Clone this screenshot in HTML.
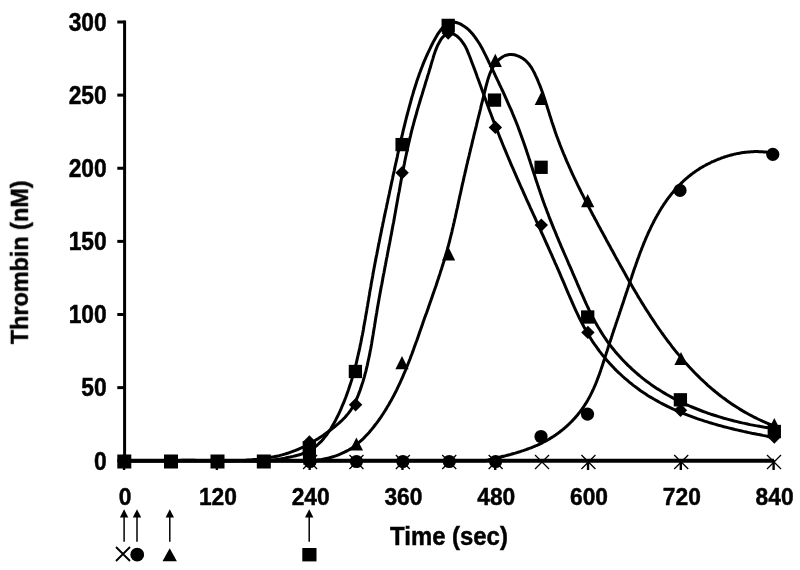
<!DOCTYPE html><html><head><meta charset="utf-8"><style>html,body{margin:0;padding:0;background:#fff;}svg{display:block;}</style></head><body>
<svg width="800" height="570" viewBox="0 0 800 570" font-family="Liberation Sans, sans-serif" font-weight="bold">
<rect width="800" height="570" fill="#fff"/>
<g stroke="#000" stroke-width="3" fill="none" stroke-linecap="butt">
<path d="M124.6,20.6 V462.2"/>
<path d="M117.3,460.75 H124.6"/>
<path d="M117.3,387.62 H124.6"/>
<path d="M117.3,314.50 H124.6"/>
<path d="M117.3,241.38 H124.6"/>
<path d="M117.3,168.25 H124.6"/>
<path d="M117.3,95.12 H124.6"/>
<path d="M117.3,22.00 H124.6"/>
<path d="M123.1,460.75 H774" stroke-width="3.8"/>
<path d="M124.10,460 V470" stroke-width="2.4"/>
<path d="M216.89,460 V470" stroke-width="2.4"/>
<path d="M309.67,460 V470" stroke-width="2.4"/>
<path d="M402.46,460 V470" stroke-width="2.4"/>
<path d="M495.24,460 V470" stroke-width="2.4"/>
<path d="M588.03,460 V470" stroke-width="2.4"/>
<path d="M680.81,460 V470" stroke-width="2.4"/>
<path d="M773.60,460 V470" stroke-width="2.4"/>
</g>
<g stroke="#000" stroke-width="3" fill="none" stroke-linejoin="round" stroke-linecap="round">
<path d="M124.5,460.8 L250.1,460.8 252.8,461.0 255.5,461.1 258.2,461.2 260.9,461.1 263.5,461.0 266.2,460.8 268.8,460.6 271.4,460.3 274.0,459.9 276.6,459.5 279.3,459.1 281.9,458.6 284.6,458.1 287.4,457.5 290.1,457.0 292.9,456.4 295.7,455.7 298.5,455.0 301.2,454.2 303.8,453.2 306.3,452.2 308.8,451.0 311.1,449.6 313.3,448.2 315.4,446.6 317.4,445.0 319.3,443.2 321.2,441.4 322.9,439.5 324.6,437.4 326.3,435.4 327.8,433.2 329.3,431.0 330.8,428.8 332.1,426.5 333.5,424.1 334.8,421.8 336.0,419.4 337.2,417.0 338.4,414.6 339.6,412.1 340.7,409.7 341.7,407.2 342.8,404.7 343.8,402.3 344.8,399.8 345.8,397.3 346.7,394.8 347.6,392.2 348.5,389.7 349.3,387.2 350.2,384.6 351.0,382.1 351.8,379.5 352.5,376.9 353.3,374.3 354.0,371.7 354.7,369.1 355.4,366.5 356.1,363.9 356.7,361.3 357.3,358.7 357.9,356.0 358.5,353.4 359.1,350.8 359.7,348.1 360.2,345.5 360.8,342.8 361.3,340.2 361.8,337.5 362.4,334.8 362.9,332.2 363.4,329.5 363.8,326.8 364.3,324.1 364.8,321.5 365.3,318.8 365.7,316.1 366.2,313.4 366.7,310.7 367.1,308.1 367.6,305.4 368.0,302.7 368.5,300.0 368.9,297.4 369.4,294.7 369.8,292.0 370.3,289.3 370.8,286.7 371.2,284.0 371.7,281.3 372.2,278.7 372.7,276.0 373.1,273.3 373.6,270.7 374.1,268.0 374.6,265.4 375.1,262.7 375.6,260.1 376.1,257.4 376.7,254.8 377.2,252.1 377.7,249.5 378.2,246.9 378.7,244.2 379.3,241.6 379.8,238.9 380.3,236.3 380.9,233.7 381.4,231.0 381.9,228.4 382.5,225.8 383.0,223.1 383.6,220.5 384.1,217.9 384.7,215.2 385.2,212.6 385.8,210.0 386.4,207.3 386.9,204.7 387.5,202.1 388.0,199.4 388.6,196.8 389.2,194.1 389.7,191.5 390.3,188.9 390.9,186.2 391.4,183.6 392.0,180.9 392.6,178.3 393.1,175.6 393.7,173.0 394.3,170.3 394.8,167.7 395.4,165.0 396.0,162.4 396.6,159.8 397.2,157.1 397.7,154.5 398.3,151.8 398.9,149.2 399.5,146.5 400.1,143.9 400.7,141.2 401.3,138.6 402.0,136.0 402.6,133.3 403.2,130.7 403.8,128.1 404.5,125.5 405.1,122.8 405.8,120.2 406.4,117.6 407.1,115.0 407.8,112.4 408.5,109.8 409.2,107.2 409.9,104.7 410.6,102.1 411.3,99.5 412.0,96.9 412.8,94.4 413.5,91.8 414.3,89.3 415.1,86.7 415.9,84.2 416.7,81.6 417.6,79.1 418.5,76.6 419.3,74.0 420.3,71.5 421.2,69.0 422.2,66.5 423.2,63.9 424.2,61.4 425.3,58.9 426.4,56.4 427.5,53.8 428.7,51.3 429.9,48.8 431.1,46.3 432.4,43.8 433.7,41.2 435.1,38.7 436.5,36.2 437.9,33.9 439.5,31.6 441.1,29.5 442.8,27.5 444.5,25.8 446.4,24.4 448.3,23.3 450.3,22.6 452.5,22.2 454.8,22.3 457.1,22.8 459.6,23.6 462.0,24.9 464.4,26.4 466.8,28.2 469.0,30.1 471.0,32.2 473.0,34.5 474.8,36.8 476.4,39.1 478.0,41.5 479.5,43.8 480.9,46.2 482.2,48.5 483.4,50.9 484.6,53.3 485.8,55.6 486.9,58.0 488.1,60.4 489.2,62.8 490.4,65.2 491.5,67.6 492.7,70.0 493.9,72.4 495.0,74.8 496.2,77.3 497.3,79.7 498.5,82.1 499.6,84.6 500.8,87.0 501.9,89.5 503.1,91.9 504.2,94.4 505.3,96.8 506.4,99.3 507.5,101.8 508.6,104.3 509.7,106.8 510.8,109.2 511.9,111.7 512.9,114.2 514.0,116.8 515.0,119.3 516.0,121.8 517.0,124.3 518.0,126.8 518.9,129.4 519.9,131.9 520.8,134.4 521.7,137.0 522.6,139.5 523.5,142.1 524.4,144.6 525.3,147.2 526.2,149.7 527.0,152.3 527.9,154.9 528.7,157.4 529.6,160.0 530.4,162.6 531.2,165.1 532.1,167.7 532.9,170.3 533.7,172.8 534.6,175.4 535.4,178.0 536.2,180.5 537.1,183.1 537.9,185.6 538.8,188.2 539.7,190.7 540.5,193.3 541.4,195.8 542.3,198.4 543.2,200.9 544.1,203.5 545.0,206.0 546.0,208.5 546.9,211.1 547.9,213.6 548.8,216.1 549.8,218.6 550.8,221.1 551.8,223.6 552.8,226.1 553.8,228.6 554.9,231.1 555.9,233.6 556.9,236.1 558.0,238.6 559.0,241.1 560.1,243.6 561.1,246.1 562.2,248.6 563.3,251.1 564.3,253.5 565.4,256.0 566.5,258.5 567.6,261.0 568.6,263.5 569.7,265.9 570.8,268.4 571.9,270.9 572.9,273.4 574.0,275.9 575.1,278.4 576.2,280.8 577.2,283.3 578.3,285.8 579.4,288.3 580.4,290.8 581.5,293.2 582.6,295.7 583.7,298.2 584.8,300.6 585.9,303.1 587.0,305.5 588.2,308.0 589.3,310.4 590.5,312.8 591.7,315.2 592.9,317.6 594.2,320.0 595.4,322.3 596.8,324.7 598.1,327.0 599.5,329.3 600.9,331.6 602.3,333.9 603.8,336.2 605.3,338.4 606.8,340.6 608.4,342.8 610.0,345.0 611.7,347.2 613.4,349.3 615.1,351.4 616.9,353.5 618.7,355.5 620.5,357.5 622.3,359.5 624.2,361.5 626.1,363.4 628.0,365.4 630.0,367.2 632.0,369.1 634.0,370.9 636.0,372.7 638.1,374.5 640.1,376.2 642.2,377.9 644.4,379.6 646.5,381.2 648.7,382.8 650.9,384.4 653.1,385.9 655.3,387.4 657.5,388.9 659.8,390.3 662.1,391.7 664.4,393.1 666.7,394.5 669.0,395.8 671.4,397.1 673.7,398.4 676.1,399.6 678.5,400.8 680.9,402.0 683.3,403.2 685.8,404.3 688.2,405.4 690.7,406.5 693.2,407.5 695.7,408.5 698.2,409.5 700.7,410.5 703.2,411.5 705.8,412.4 708.3,413.3 710.9,414.2 713.4,415.0 716.0,415.8 718.6,416.6 721.2,417.4 723.8,418.2 726.4,418.9 729.0,419.6 731.6,420.3 734.2,421.0 736.9,421.6 739.5,422.3 742.1,422.9 744.8,423.4 747.4,424.0 750.1,424.6 752.8,425.1 755.4,425.6 758.1,426.1 760.7,426.5 763.4,427.0 766.1,427.4 768.7,427.8 771.4,428.2 774.1,428.6"/>
<path d="M124.5,460.8 L180.0,460.4 182.8,460.3 185.6,460.3 188.4,460.3 191.2,460.3 194.0,460.3 196.8,460.4 199.7,460.4 202.5,460.5 205.4,460.5 208.2,460.6 211.1,460.6 214.0,460.6 216.9,460.7 219.7,460.7 222.6,460.7 225.5,460.7 228.4,460.7 231.2,460.7 234.1,460.7 237.0,460.6 239.9,460.5 242.7,460.4 245.6,460.3 248.5,460.1 251.3,459.9 254.2,459.6 257.0,459.4 259.8,459.0 262.7,458.7 265.5,458.3 268.3,457.8 271.0,457.3 273.8,456.8 276.6,456.2 279.3,455.6 282.1,454.9 284.8,454.1 287.5,453.3 290.1,452.4 292.8,451.4 295.5,450.4 298.1,449.3 300.7,448.2 303.3,447.0 305.8,445.7 308.4,444.4 310.9,443.0 313.4,441.6 315.8,440.1 318.3,438.6 320.7,437.0 323.1,435.4 325.4,433.7 327.8,432.0 330.1,430.3 332.3,428.5 334.6,426.8 336.8,424.9 339.0,423.1 341.1,421.2 343.1,419.2 345.1,417.2 346.9,415.1 348.7,412.9 350.4,410.6 351.9,408.3 353.3,405.8 354.7,403.3 355.9,400.8 357.0,398.2 358.1,395.5 359.1,392.9 360.1,390.2 361.0,387.5 361.9,384.8 362.8,382.1 363.6,379.3 364.4,376.6 365.1,373.9 365.9,371.1 366.5,368.3 367.2,365.6 367.8,362.8 368.4,360.0 369.0,357.2 369.6,354.4 370.1,351.6 370.7,348.8 371.2,346.0 371.7,343.2 372.1,340.4 372.6,337.5 373.1,334.7 373.5,331.9 374.0,329.1 374.5,326.3 374.9,323.4 375.4,320.6 375.8,317.8 376.3,315.0 376.8,312.2 377.2,309.4 377.7,306.6 378.2,303.7 378.7,300.9 379.2,298.1 379.7,295.3 380.2,292.5 380.7,289.7 381.2,287.0 381.8,284.2 382.3,281.4 382.8,278.6 383.3,275.8 383.9,273.0 384.4,270.2 384.9,267.4 385.5,264.6 386.0,261.8 386.5,259.0 387.1,256.3 387.6,253.5 388.1,250.7 388.7,247.9 389.2,245.1 389.8,242.3 390.3,239.5 390.8,236.7 391.4,233.9 391.9,231.1 392.4,228.3 392.9,225.5 393.5,222.7 394.0,219.9 394.5,217.1 395.0,214.3 395.5,211.4 396.0,208.6 396.5,205.8 397.0,203.0 397.5,200.2 398.0,197.3 398.5,194.5 399.1,191.7 399.6,188.9 400.1,186.1 400.6,183.2 401.1,180.4 401.6,177.6 402.2,174.8 402.7,172.0 403.3,169.2 403.8,166.4 404.4,163.6 404.9,160.8 405.5,158.0 406.1,155.2 406.7,152.4 407.3,149.6 407.9,146.9 408.5,144.1 409.2,141.3 409.8,138.6 410.5,135.8 411.1,133.1 411.8,130.4 412.5,127.6 413.3,124.9 414.0,122.2 414.7,119.5 415.5,116.8 416.3,114.0 417.0,111.3 417.8,108.6 418.6,105.9 419.4,103.2 420.2,100.5 421.0,97.8 421.9,95.1 422.7,92.4 423.5,89.6 424.4,86.9 425.2,84.2 426.0,81.4 426.9,78.7 427.7,75.9 428.6,73.1 429.4,70.3 430.3,67.5 431.1,64.7 431.9,61.9 432.8,59.1 433.6,56.2 434.5,53.4 435.5,50.6 436.6,47.9 437.7,45.2 439.1,42.7 440.5,40.2 442.1,37.9 443.9,36.0 445.8,34.5 447.8,33.5 449.9,33.2 452.0,33.5 454.2,34.4 456.4,35.7 458.5,37.5 460.5,39.5 462.3,41.8 464.0,44.3 465.5,46.8 466.8,49.4 467.9,52.1 469.0,54.8 470.1,57.5 471.1,60.2 472.1,62.9 473.1,65.6 474.2,68.4 475.2,71.1 476.2,73.7 477.1,76.4 478.1,79.1 479.1,81.8 480.1,84.5 481.1,87.2 482.0,89.9 483.0,92.5 484.0,95.2 484.9,97.9 485.9,100.5 486.9,103.2 487.9,105.9 488.8,108.5 489.8,111.2 490.8,113.8 491.8,116.5 492.8,119.1 493.8,121.8 494.8,124.4 495.8,127.0 496.9,129.7 497.9,132.3 499.0,135.0 500.0,137.6 501.1,140.2 502.1,142.8 503.2,145.5 504.3,148.1 505.4,150.7 506.5,153.3 507.6,156.0 508.7,158.6 509.8,161.2 510.9,163.8 512.0,166.4 513.2,169.0 514.3,171.6 515.4,174.2 516.6,176.9 517.7,179.5 518.9,182.1 520.0,184.7 521.2,187.3 522.4,189.9 523.5,192.5 524.7,195.1 525.8,197.7 527.0,200.3 528.2,202.9 529.4,205.5 530.5,208.1 531.7,210.7 532.9,213.3 534.1,215.9 535.3,218.5 536.4,221.1 537.6,223.7 538.8,226.3 540.0,228.9 541.1,231.5 542.3,234.1 543.5,236.7 544.7,239.3 545.8,241.9 547.0,244.5 548.2,247.1 549.3,249.7 550.5,252.3 551.7,254.9 552.8,257.6 554.0,260.2 555.1,262.8 556.3,265.4 557.4,268.0 558.6,270.6 559.7,273.2 560.8,275.9 561.9,278.5 563.1,281.1 564.2,283.7 565.3,286.3 566.4,289.0 567.5,291.6 568.6,294.2 569.8,296.8 570.9,299.4 572.0,302.0 573.2,304.6 574.3,307.2 575.5,309.8 576.7,312.4 577.9,314.9 579.1,317.5 580.4,320.0 581.7,322.5 583.0,325.0 584.3,327.5 585.7,330.0 587.1,332.4 588.5,334.9 590.0,337.3 591.5,339.7 593.0,342.1 594.6,344.4 596.3,346.7 597.9,349.0 599.6,351.3 601.4,353.6 603.1,355.8 605.0,358.0 606.8,360.2 608.7,362.3 610.6,364.4 612.6,366.5 614.5,368.6 616.5,370.6 618.6,372.6 620.7,374.5 622.8,376.5 624.9,378.4 627.1,380.2 629.3,382.1 631.5,383.8 633.7,385.6 636.0,387.3 638.3,389.0 640.6,390.7 642.9,392.3 645.3,393.8 647.7,395.4 650.1,396.9 652.5,398.3 655.0,399.7 657.5,401.1 659.9,402.5 662.5,403.8 665.0,405.1 667.5,406.4 670.1,407.6 672.7,408.8 675.3,410.0 677.9,411.1 680.5,412.2 683.1,413.3 685.8,414.4 688.4,415.4 691.1,416.4 693.8,417.4 696.5,418.4 699.2,419.3 701.9,420.2 704.6,421.1 707.4,421.9 710.1,422.8 712.9,423.6 715.6,424.4 718.4,425.2 721.1,425.9 723.9,426.7 726.7,427.4 729.5,428.1 732.2,428.8 735.0,429.5 737.8,430.1 740.6,430.7 743.4,431.4 746.1,432.0 748.9,432.6 751.7,433.2 754.5,433.7 757.3,434.3 760.0,434.8 762.8,435.4 765.5,435.9 768.3,436.4 771.1,436.9 773.8,437.5"/>
<path d="M124.5,460.8 L289.9,460.6 292.4,460.7 294.8,460.9 297.3,460.9 299.8,461.0 302.2,461.0 304.7,460.9 307.2,460.9 309.6,460.7 312.1,460.6 314.5,460.3 316.9,460.1 319.3,459.7 321.7,459.4 324.1,458.9 326.5,458.4 328.8,457.9 331.1,457.3 333.4,456.6 335.7,455.9 337.9,455.1 340.1,454.2 342.3,453.2 344.5,452.2 346.6,451.1 348.7,450.0 350.7,448.7 352.7,447.4 354.6,446.0 356.5,444.6 358.4,443.0 360.2,441.4 362.0,439.8 363.8,438.1 365.5,436.3 367.2,434.5 368.9,432.7 370.5,430.8 372.1,428.9 373.6,427.0 375.1,425.0 376.6,423.1 378.1,421.1 379.5,419.1 380.9,417.1 382.3,415.0 383.6,413.0 384.9,411.0 386.2,408.9 387.4,406.8 388.7,404.7 389.9,402.6 391.1,400.5 392.2,398.4 393.4,396.3 394.5,394.1 395.6,392.0 396.7,389.8 397.7,387.6 398.8,385.4 399.8,383.3 400.8,381.1 401.8,378.9 402.8,376.6 403.7,374.4 404.7,372.2 405.6,370.0 406.5,367.7 407.4,365.5 408.3,363.2 409.2,361.0 410.1,358.7 410.9,356.4 411.8,354.2 412.6,351.9 413.5,349.6 414.3,347.3 415.1,345.0 415.9,342.8 416.8,340.5 417.6,338.2 418.4,335.9 419.2,333.6 420.0,331.3 420.8,329.0 421.6,326.7 422.4,324.4 423.2,322.1 424.0,319.8 424.8,317.5 425.6,315.3 426.5,313.0 427.3,310.7 428.1,308.4 428.9,306.1 429.7,303.8 430.5,301.5 431.3,299.2 432.1,296.9 432.9,294.6 433.7,292.3 434.5,290.0 435.3,287.8 436.1,285.5 436.8,283.2 437.6,280.8 438.4,278.5 439.1,276.2 439.9,273.9 440.6,271.6 441.4,269.3 442.1,267.0 442.8,264.7 443.6,262.3 444.3,260.0 445.0,257.7 445.6,255.3 446.3,253.0 447.0,250.7 447.6,248.3 448.3,246.0 448.9,243.6 449.5,241.3 450.1,238.9 450.7,236.5 451.3,234.2 451.9,231.8 452.4,229.4 453.0,227.0 453.5,224.7 454.1,222.3 454.6,219.9 455.2,217.5 455.7,215.1 456.2,212.8 456.7,210.4 457.3,208.0 457.8,205.6 458.3,203.2 458.8,200.8 459.3,198.5 459.8,196.1 460.4,193.7 460.9,191.4 461.4,189.0 461.9,186.6 462.4,184.3 463.0,181.9 463.5,179.6 464.0,177.2 464.6,174.9 465.1,172.5 465.7,170.2 466.2,167.8 466.7,165.5 467.3,163.1 467.8,160.8 468.4,158.5 469.0,156.1 469.5,153.8 470.1,151.4 470.6,149.1 471.2,146.8 471.8,144.4 472.3,142.1 472.9,139.7 473.5,137.4 474.0,135.0 474.6,132.7 475.2,130.3 475.8,128.0 476.4,125.6 476.9,123.3 477.5,120.9 478.1,118.5 478.7,116.1 479.3,113.8 479.9,111.4 480.5,109.0 481.0,106.6 481.6,104.2 482.2,101.8 482.8,99.4 483.4,97.0 484.0,94.5 484.6,92.1 485.2,89.7 485.8,87.2 486.4,84.8 487.1,82.3 487.8,79.9 488.5,77.6 489.3,75.2 490.2,72.9 491.2,70.7 492.2,68.6 493.4,66.5 494.7,64.5 496.2,62.5 497.8,60.8 499.5,59.1 501.3,57.7 503.2,56.5 505.2,55.5 507.3,54.9 509.5,54.5 511.7,54.5 514.0,54.8 516.2,55.3 518.4,56.1 520.5,57.1 522.6,58.3 524.5,59.7 526.3,61.2 527.9,63.0 529.5,64.8 530.9,66.8 532.2,68.9 533.4,71.1 534.6,73.3 535.6,75.6 536.7,77.9 537.7,80.2 538.6,82.5 539.6,84.8 540.5,87.1 541.4,89.5 542.2,91.8 543.0,94.1 543.8,96.5 544.6,98.8 545.4,101.2 546.1,103.5 546.9,105.9 547.6,108.2 548.4,110.6 549.1,112.9 549.8,115.2 550.6,117.6 551.3,119.9 552.0,122.2 552.8,124.5 553.6,126.8 554.3,129.1 555.1,131.4 555.9,133.7 556.7,136.0 557.6,138.3 558.4,140.5 559.3,142.8 560.1,145.0 561.0,147.3 561.9,149.5 562.8,151.8 563.7,154.0 564.7,156.2 565.6,158.4 566.5,160.6 567.5,162.8 568.5,165.0 569.4,167.2 570.4,169.4 571.4,171.6 572.4,173.8 573.4,176.0 574.4,178.1 575.5,180.3 576.5,182.5 577.5,184.6 578.6,186.8 579.7,189.0 580.7,191.1 581.8,193.3 582.9,195.4 584.0,197.6 585.1,199.7 586.2,201.9 587.3,204.0 588.4,206.1 589.5,208.3 590.6,210.4 591.7,212.6 592.8,214.7 594.0,216.8 595.1,219.0 596.3,221.1 597.4,223.2 598.5,225.4 599.7,227.5 600.8,229.7 602.0,231.8 603.2,233.9 604.3,236.1 605.5,238.2 606.6,240.4 607.8,242.5 609.0,244.7 610.2,246.8 611.3,249.0 612.5,251.1 613.7,253.3 614.8,255.4 616.0,257.6 617.2,259.7 618.4,261.9 619.6,264.0 620.8,266.2 622.0,268.3 623.2,270.5 624.4,272.6 625.6,274.8 626.8,276.9 628.0,279.1 629.2,281.2 630.5,283.3 631.7,285.5 632.9,287.6 634.2,289.7 635.4,291.8 636.7,293.9 637.9,296.1 639.2,298.2 640.5,300.3 641.7,302.4 643.0,304.4 644.3,306.5 645.6,308.6 646.9,310.7 648.3,312.7 649.6,314.8 650.9,316.9 652.3,318.9 653.6,320.9 655.0,323.0 656.3,325.0 657.7,327.0 659.1,329.0 660.5,331.0 661.9,333.0 663.3,334.9 664.7,336.9 666.2,338.9 667.6,340.8 669.1,342.7 670.6,344.7 672.0,346.6 673.5,348.5 675.0,350.4 676.5,352.2 678.1,354.1 679.6,355.9 681.2,357.8 682.7,359.6 684.3,361.4 685.9,363.2 687.5,365.0 689.1,366.8 690.7,368.5 692.4,370.3 694.0,372.0 695.7,373.7 697.4,375.4 699.1,377.1 700.8,378.8 702.6,380.4 704.3,382.0 706.1,383.7 707.8,385.3 709.6,386.8 711.4,388.4 713.3,390.0 715.1,391.5 717.0,393.0 718.8,394.5 720.7,396.0 722.6,397.4 724.6,398.8 726.5,400.3 728.5,401.7 730.4,403.0 732.4,404.4 734.5,405.7 736.5,407.0 738.5,408.3 740.6,409.6 742.7,410.9 744.8,412.1 746.9,413.3 749.1,414.5 751.3,415.6 753.5,416.8 755.7,417.9 757.9,419.0 760.1,420.0 762.4,421.1 764.7,422.1 767.0,423.1 769.4,424.1 771.7,425.0 774.1,425.9"/>
<path d="M124.5,460.8 L485.0,460.7 486.1,460.5 487.2,460.2 488.3,460.0 489.4,459.7 490.5,459.4 491.6,459.2 492.7,458.9 493.8,458.7 494.9,458.4 496.0,458.1 497.2,457.9 498.3,457.6 499.4,457.3 500.5,457.0 501.7,456.7 502.8,456.5 503.9,456.2 505.1,455.9 506.2,455.6 507.3,455.3 508.5,455.0 509.6,454.7 510.8,454.4 511.9,454.0 513.0,453.7 514.2,453.4 515.3,453.1 516.5,452.7 517.6,452.4 518.7,452.0 519.9,451.7 521.0,451.3 522.1,450.9 523.2,450.6 524.4,450.2 525.5,449.8 526.6,449.4 527.7,449.0 528.8,448.6 529.9,448.2 531.0,447.8 532.1,447.3 533.2,446.9 534.3,446.4 535.4,446.0 536.5,445.5 537.5,445.1 538.6,444.6 539.7,444.1 540.7,443.6 541.8,443.1 542.8,442.5 543.8,442.0 544.9,441.5 545.9,440.9 546.9,440.4 547.9,439.8 548.9,439.2 549.9,438.6 550.9,438.0 551.9,437.4 552.8,436.8 553.8,436.2 554.8,435.5 555.7,434.9 556.6,434.2 557.6,433.6 558.5,432.9 559.4,432.2 560.3,431.5 561.2,430.8 562.1,430.1 563.0,429.4 563.9,428.7 564.7,427.9 565.6,427.2 566.5,426.4 567.3,425.7 568.1,424.9 569.0,424.1 569.8,423.3 570.6,422.5 571.4,421.7 572.2,420.9 573.0,420.1 573.7,419.2 574.5,418.4 575.3,417.6 576.0,416.7 576.8,415.8 577.5,415.0 578.2,414.1 578.9,413.2 579.6,412.3 580.3,411.4 581.0,410.5 581.7,409.6 582.3,408.6 583.0,407.7 583.6,406.8 584.3,405.8 584.9,404.8 585.5,403.9 586.1,402.9 586.7,401.9 587.3,400.9 587.9,399.9 588.4,398.9 589.0,397.9 589.5,396.9 590.1,395.9 590.6,394.9 591.1,393.8 591.6,392.8 592.2,391.7 592.7,390.7 593.1,389.6 593.6,388.6 594.1,387.5 594.6,386.4 595.0,385.4 595.5,384.3 595.9,383.2 596.4,382.1 596.8,381.0 597.2,379.9 597.6,378.8 598.1,377.7 598.5,376.6 598.9,375.5 599.3,374.4 599.7,373.3 600.1,372.2 600.5,371.1 600.9,369.9 601.2,368.8 601.6,367.7 602.0,366.6 602.4,365.5 602.7,364.3 603.1,363.2 603.5,362.1 603.8,361.0 604.2,359.8 604.6,358.7 604.9,357.6 605.3,356.5 605.6,355.4 606.0,354.2 606.3,353.1 606.7,352.0 607.1,350.9 607.4,349.8 607.8,348.7 608.1,347.6 608.5,346.5 608.8,345.4 609.2,344.3 609.6,343.2 609.9,342.1 610.3,341.0 610.6,339.9 611.0,338.8 611.4,337.7 611.7,336.6 612.1,335.5 612.4,334.4 612.8,333.3 613.2,332.3 613.5,331.2 613.9,330.1 614.2,329.0 614.6,327.9 615.0,326.8 615.3,325.8 615.7,324.7 616.0,323.6 616.4,322.5 616.8,321.4 617.1,320.4 617.5,319.3 617.9,318.2 618.2,317.1 618.6,316.1 619.0,315.0 619.3,313.9 619.7,312.8 620.0,311.7 620.4,310.7 620.8,309.6 621.1,308.5 621.5,307.4 621.9,306.3 622.2,305.2 622.6,304.1 623.0,303.1 623.3,302.0 623.7,300.9 624.0,299.8 624.4,298.7 624.8,297.6 625.1,296.5 625.5,295.4 625.9,294.3 626.2,293.2 626.6,292.1 627.0,291.0 627.3,289.9 627.7,288.8 628.1,287.7 628.4,286.6 628.8,285.5 629.2,284.3 629.5,283.2 629.9,282.1 630.3,281.0 630.6,279.9 631.0,278.8 631.4,277.7 631.8,276.5 632.1,275.4 632.5,274.3 632.9,273.2 633.3,272.1 633.6,270.9 634.0,269.8 634.4,268.7 634.8,267.6 635.2,266.5 635.6,265.4 636.0,264.2 636.4,263.1 636.8,262.0 637.1,260.9 637.5,259.8 638.0,258.7 638.4,257.6 638.8,256.5 639.2,255.3 639.6,254.2 640.0,253.1 640.4,252.0 640.8,250.9 641.3,249.8 641.7,248.7 642.1,247.6 642.6,246.5 643.0,245.4 643.4,244.3 643.9,243.2 644.3,242.1 644.8,241.1 645.2,240.0 645.7,238.9 646.1,237.8 646.6,236.7 647.1,235.7 647.6,234.6 648.0,233.5 648.5,232.5 649.0,231.4 649.5,230.3 650.0,229.3 650.5,228.2 651.0,227.2 651.5,226.1 652.0,225.1 652.5,224.1 653.1,223.0 653.6,222.0 654.1,221.0 654.6,219.9 655.2,218.9 655.7,217.9 656.3,216.9 656.9,215.9 657.4,214.9 658.0,213.9 658.6,212.9 659.1,211.9 659.7,210.9 660.3,209.9 660.9,209.0 661.5,208.0 662.1,207.0 662.8,206.1 663.4,205.1 664.0,204.2 664.6,203.2 665.3,202.3 665.9,201.4 666.6,200.4 667.2,199.5 667.9,198.6 668.6,197.7 669.3,196.8 670.0,195.9 670.7,195.0 671.4,194.1 672.1,193.2 672.8,192.4 673.5,191.5 674.2,190.7 675.0,189.8 675.7,189.0 676.5,188.1 677.3,187.3 678.0,186.5 678.8,185.7 679.6,184.8 680.4,184.0 681.2,183.2 682.0,182.5 682.8,181.7 683.6,180.9 684.5,180.1 685.3,179.4 686.2,178.6 687.0,177.9 687.9,177.2 688.8,176.4 689.7,175.7 690.6,175.0 691.5,174.3 692.4,173.6 693.3,172.9 694.3,172.3 695.2,171.6 696.1,171.0 697.1,170.3 698.1,169.7 699.0,169.0 700.0,168.4 701.0,167.8 702.0,167.2 703.0,166.6 704.1,166.0 705.1,165.5 706.1,164.9 707.1,164.3 708.2,163.8 709.2,163.3 710.3,162.8 711.4,162.2 712.4,161.7 713.5,161.3 714.6,160.8 715.7,160.3 716.8,159.9 717.9,159.4 719.0,159.0 720.1,158.6 721.2,158.1 722.3,157.7 723.4,157.4 724.5,157.0 725.6,156.6 726.8,156.3 727.9,155.9 729.0,155.6 730.2,155.3 731.3,155.0 732.5,154.7 733.6,154.4 734.8,154.1 735.9,153.9 737.1,153.6 738.2,153.4 739.4,153.2 740.5,153.0 741.7,152.8 742.9,152.6 744.0,152.5 745.2,152.3 746.4,152.2 747.5,152.1 748.7,152.0 749.8,151.9 751.0,151.8 752.2,151.7 753.3,151.7 754.5,151.6 755.6,151.6 756.8,151.6 758.0,151.6 759.1,151.7 760.3,151.7 761.4,151.8 762.6,151.8 763.7,151.9 764.9,152.0 766.0,152.1 767.1,152.3 768.3,152.4 769.4,152.6 770.5,152.8 771.7,152.9 772.8,153.2 773.9,153.4"/>
</g>
<g fill="#000">
<path d="M303.07,455.00 l14,14 M317.07,455.00 l-14,14" stroke="#000" stroke-width="1.3" fill="none"/>
<path d="M349.46,455.00 l14,14 M363.46,455.00 l-14,14" stroke="#000" stroke-width="1.3" fill="none"/>
<path d="M395.86,455.00 l14,14 M409.86,455.00 l-14,14" stroke="#000" stroke-width="1.3" fill="none"/>
<path d="M442.25,455.00 l14,14 M456.25,455.00 l-14,14" stroke="#000" stroke-width="1.3" fill="none"/>
<path d="M488.64,455.00 l14,14 M502.64,455.00 l-14,14" stroke="#000" stroke-width="1.3" fill="none"/>
<path d="M535.04,455.00 l14,14 M549.04,455.00 l-14,14" stroke="#000" stroke-width="1.3" fill="none"/>
<path d="M581.43,455.00 l14,14 M595.43,455.00 l-14,14" stroke="#000" stroke-width="1.3" fill="none"/>
<path d="M674.21,455.00 l14,14 M688.21,455.00 l-14,14" stroke="#000" stroke-width="1.3" fill="none"/>
<path d="M767.00,455.00 l14,14 M781.00,455.00 l-14,14" stroke="#000" stroke-width="1.3" fill="none"/>
<circle cx="124.50" cy="461.50" r="6.6"/>
<circle cx="170.89" cy="461.50" r="6.6"/>
<circle cx="217.29" cy="461.50" r="6.6"/>
<circle cx="263.68" cy="461.50" r="6.6"/>
<circle cx="310.07" cy="461.50" r="6.6"/>
<circle cx="356.46" cy="461.50" r="6.6"/>
<circle cx="402.86" cy="461.50" r="6.6"/>
<circle cx="449.25" cy="461.50" r="6.6"/>
<circle cx="495.64" cy="461.50" r="6.6"/>
<circle cx="541.00" cy="436.50" r="6.6"/>
<circle cx="587.50" cy="414.20" r="6.6"/>
<circle cx="680.00" cy="190.40" r="6.6"/>
<circle cx="772.80" cy="154.30" r="6.6"/>
<path d="M309.40,451.40 L316.00,464.60 L302.80,464.60 Z"/>
<path d="M356.40,437.40 L363.00,450.60 L349.80,450.60 Z"/>
<path d="M402.00,356.10 L408.60,369.30 L395.40,369.30 Z"/>
<path d="M448.60,247.30 L455.20,260.50 L442.00,260.50 Z"/>
<path d="M495.30,53.70 L501.90,66.90 L488.70,66.90 Z"/>
<path d="M541.30,91.90 L547.90,105.10 L534.70,105.10 Z"/>
<path d="M587.70,194.00 L594.30,207.20 L581.10,207.20 Z"/>
<path d="M681.00,351.90 L687.60,365.10 L674.40,365.10 Z"/>
<path d="M774.30,418.00 L780.90,431.20 L767.70,431.20 Z"/>
<path d="M309.40,435.30 L316.10,442.00 L309.40,448.70 L302.70,442.00 Z"/>
<path d="M355.60,398.10 L362.30,404.80 L355.60,411.50 L348.90,404.80 Z"/>
<path d="M402.10,166.00 L408.80,172.70 L402.10,179.40 L395.40,172.70 Z"/>
<path d="M448.20,26.30 L454.90,33.00 L448.20,39.70 L441.50,33.00 Z"/>
<path d="M495.40,120.70 L502.10,127.40 L495.40,134.10 L488.70,127.40 Z"/>
<path d="M541.30,218.40 L548.00,225.10 L541.30,231.80 L534.60,225.10 Z"/>
<path d="M587.90,325.70 L594.60,332.40 L587.90,339.10 L581.20,332.40 Z"/>
<path d="M680.50,403.50 L687.20,410.20 L680.50,416.90 L673.80,410.20 Z"/>
<path d="M774.30,430.30 L781.00,437.00 L774.30,443.70 L767.60,437.00 Z"/>
<rect x="302.9" y="447" width="13" height="16"/>
<rect x="117.30" y="454.50" width="14.0" height="14.0"/>
<rect x="164.00" y="454.50" width="14.0" height="14.0"/>
<rect x="210.50" y="454.50" width="14.0" height="14.0"/>
<rect x="256.80" y="454.50" width="14.0" height="14.0"/>
<rect x="302.65" y="441.15" width="13.3" height="13.3"/>
<rect x="348.75" y="364.85" width="13.3" height="13.3"/>
<rect x="395.45" y="137.95" width="13.3" height="13.3"/>
<rect x="441.55" y="18.75" width="13.3" height="13.3"/>
<rect x="487.85" y="93.45" width="13.3" height="13.3"/>
<rect x="534.45" y="160.65" width="13.3" height="13.3"/>
<rect x="581.05" y="310.35" width="13.3" height="13.3"/>
<rect x="673.75" y="393.15" width="13.3" height="13.3"/>
<rect x="767.65" y="424.85" width="13.3" height="13.3"/>
</g>
<g opacity="0.999" fill="#000" stroke="#000" stroke-width="0.45">
<g font-size="22.8">
<text transform="translate(106.7,469.55) scale(1,1.12)" text-anchor="end">0</text>
<text transform="translate(106.7,396.43) scale(1,1.12)" text-anchor="end">50</text>
<text transform="translate(106.7,323.30) scale(1,1.12)" text-anchor="end">100</text>
<text transform="translate(106.7,250.18) scale(1,1.12)" text-anchor="end">150</text>
<text transform="translate(106.7,177.05) scale(1,1.12)" text-anchor="end">200</text>
<text transform="translate(106.7,103.92) scale(1,1.12)" text-anchor="end">250</text>
<text transform="translate(106.7,30.80) scale(1,1.12)" text-anchor="end">300</text>
<text transform="translate(125.10,504.6) scale(1,1.065)" text-anchor="middle">0</text>
<text transform="translate(217.89,504.6) scale(1,1.065)" text-anchor="middle">120</text>
<text transform="translate(310.67,504.6) scale(1,1.065)" text-anchor="middle">240</text>
<text transform="translate(403.46,504.6) scale(1,1.065)" text-anchor="middle">360</text>
<text transform="translate(496.24,504.6) scale(1,1.065)" text-anchor="middle">480</text>
<text transform="translate(589.03,504.6) scale(1,1.065)" text-anchor="middle">600</text>
<text transform="translate(681.81,504.6) scale(1,1.065)" text-anchor="middle">720</text>
<text transform="translate(774.60,504.6) scale(1,1.065)" text-anchor="middle">840</text>
</g>
<text transform="translate(390.1,544.85) scale(1,1.045)" font-size="23.9">Time (sec)</text>
<text transform="translate(28.1,344.2) rotate(-90) scale(1,1.055)" font-size="23.4">Thrombin (nM)</text>
</g>
<g stroke="#000" stroke-width="1.5">
<path d="M124.10,517 V541.8"/>
<path d="M137.00,517 V541.8"/>
<path d="M169.80,517 V541.8"/>
<path d="M309.20,517 V541.8"/>
</g><g fill="#000">
<path d="M124.10,509.3 L128.30,517.6 L119.90,517.6 Z"/>
<path d="M137.00,509.3 L141.20,517.6 L132.80,517.6 Z"/>
<path d="M169.80,509.3 L174.00,517.6 L165.60,517.6 Z"/>
<path d="M309.20,509.3 L313.40,517.6 L305.00,517.6 Z"/>
</g>
<path d="M116,547 L130,561 M130,547 L116,561" stroke="#000" stroke-width="1.9" fill="none"/>
<circle cx="137.2" cy="554.7" r="6.9"/>
<path d="M169.7,548.2 L176.9,561.3 L162.5,561.3 Z"/>
<rect x="302.3" y="548" width="14.2" height="13.4"/>
</svg></body></html>
